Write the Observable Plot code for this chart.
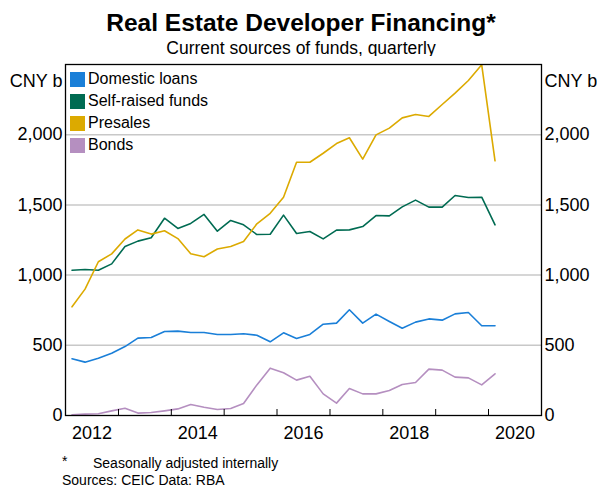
<!DOCTYPE html>
<html>
<head>
<meta charset="utf-8">
<script src="https://cdn.jsdelivr.net/npm/d3@7"></script>
<script src="https://cdn.jsdelivr.net/npm/@observablehq/plot@0.6"></script>
<style>
  body { margin: 0; background: #fff; font-family: "Liberation Sans", Arial, sans-serif; color: #000; }
  #wrap { position: relative; width: 597px; height: 488px; overflow: hidden; background: #fff; }
  .t { position: absolute; left: 0; width: 597px; padding-left: 5px; box-sizing: border-box; text-align: center; white-space: nowrap; }
  #title { top: 9px; font-size: 24.5px; line-height: 28px; font-weight: bold; }
  #sub { top: 38px; font-size: 17.5px; line-height: 20px; }
  #chart { position: absolute; left: 0; top: 56px; }
  #legend { position: absolute; left: 70px; top: 68px; font-size: 16px; }
  .row { height: 22px; display: flex; align-items: center; white-space: nowrap; }
  .sw { width: 15px; height: 15px; margin-right: 3px; flex: none; }
  .note { position: absolute; font-size: 14px; line-height: 14px; white-space: nowrap; }
</style>
</head>
<body>
<div id="wrap">
  <div id="title" class="t">Real Estate Developer Financing*</div>
  <div id="sub" class="t">Current sources of funds, quarterly</div>
  <div id="chart"></div>
  <div id="legend"></div>
  <div class="note" style="left:62px;top:454px;">*</div>
  <div class="note" style="left:93px;top:456px;">Seasonally adjusted internally</div>
  <div class="note" style="left:62px;top:473px;">Sources: CEIC Data: RBA</div>
</div>
<script>
// Quarterly observations (plotted mid-quarter)
const quarters = [
  "2012Q1","2012Q2","2012Q3","2012Q4","2013Q1","2013Q2","2013Q3","2013Q4",
  "2014Q1","2014Q2","2014Q3","2014Q4","2015Q1","2015Q2","2015Q3","2015Q4",
  "2016Q1","2016Q2","2016Q3","2016Q4","2017Q1","2017Q2","2017Q3","2017Q4",
  "2018Q1","2018Q2","2018Q3","2018Q4","2019Q1","2019Q2","2019Q3","2019Q4",
  "2020Q1"
];
const seriesNames = ["Domestic loans", "Self-raised funds", "Presales", "Bonds"];
const seriesColors = ["#1a7fd8", "#006b52", "#dcaa00", "#b58fc0"];

const domesticLoans = [404,380,408,444,491,551,556,598,601,591,591,577,577,582,572,525,589,548,577,650,658,753,658,722,670,622,665,688,679,724,734,639,639];
const selfRaised = [1035,1040,1035,1080,1204,1242,1266,1405,1332,1368,1432,1313,1389,1358,1289,1291,1427,1296,1311,1258,1320,1322,1346,1424,1422,1486,1534,1484,1484,1567,1553,1555,1358];
const presales = [774,900,1095,1151,1257,1322,1292,1316,1260,1152,1131,1186,1204,1239,1365,1440,1555,1804,1804,1868,1937,1978,1826,1999,2047,2120,2144,2130,2215,2296,2386,2498,1814];
const bonds = [5,10,12,33,52,17,21,33,47,78,59,43,50,85,218,337,304,252,280,154,88,192,154,154,178,221,235,330,323,273,268,218,297];

const yTicks = [0, 500, 1000, 1500, 2000];
const tickYears = [2013, 2014, 2015, 2016, 2017, 2018, 2019, 2020];
const labelYears = [2012, 2014, 2016, 2018, 2020];

const valuesBySeries = [domesticLoans, selfRaised, presales, bonds];

function quarterMid(q) {
  const y = +q.slice(0, 4), n = +q.slice(5);
  return new Date(Date.UTC(y, (n - 1) * 3 + 1, 15));
}

const data = seriesNames.flatMap((name, s) =>
  valuesBySeries[s].map((v, i) => ({date: quarterMid(quarters[i]), value: v, series: name}))
);

const chart = Plot.plot({
  width: 597,
  height: 392,
  marginTop: 8,
  marginBottom: 33,
  marginLeft: 65,
  marginRight: 56,
  style: {fontFamily: "'Liberation Sans', Arial, sans-serif", fontSize: "18px", color: "#000", background: "#fff", overflow: "visible"},
  x: {type: "utc", domain: [new Date(Date.UTC(2012, 0, 1)), new Date(Date.UTC(2021, 0, 1))]},
  y: {domain: [0, 2500]},
  color: {domain: seriesNames, range: seriesColors},
  marks: [
    Plot.gridY(yTicks.filter(d => d > 0), {stroke: "#c8c8c8", strokeOpacity: 1, strokeWidth: 1.5}),
    Plot.lineY(data, {x: "date", y: "value", z: "series", stroke: "series", strokeWidth: 1.6}),
    Plot.frame({stroke: "#000", strokeWidth: 1.3}),
    Plot.axisY(yTicks, {anchor: "left", tickSize: 0, tickPadding: 3, tickFormat: d3.format(","), label: null, fontSize: 18}),
    Plot.axisY(yTicks, {anchor: "right", tickSize: 0, tickPadding: 3, tickFormat: d3.format(","), label: null, fontSize: 18}),
    Plot.axisX(tickYears.map(y => new Date(Date.UTC(y, 0, 1))), {anchor: "bottom", tickSize: -6, tickFormat: () => "", label: null, stroke: "#000"}),
    Plot.axisX(labelYears.map(y => new Date(Date.UTC(y, 6, 2))), {anchor: "bottom", tickSize: 0, tickPadding: 11, tickFormat: d3.utcFormat("%Y"), label: null, fontSize: 18}),
    Plot.text(["CNY b"], {frameAnchor: "top-left", dx: -3, dy: 10, textAnchor: "end", fontSize: 18}),
    Plot.text(["CNY b"], {frameAnchor: "top-right", dx: 3, dy: 10, textAnchor: "start", fontSize: 18})
  ]
});
document.getElementById("chart").appendChild(chart);

const legend = document.getElementById("legend");
seriesNames.forEach((name, i) => {
  const row = document.createElement("div");
  row.className = "row";
  const sw = document.createElement("span");
  sw.className = "sw";
  sw.style.background = seriesColors[i];
  const lab = document.createElement("span");
  lab.textContent = name;
  row.appendChild(sw);
  row.appendChild(lab);
  legend.appendChild(row);
});
</script>
</body>
</html>
